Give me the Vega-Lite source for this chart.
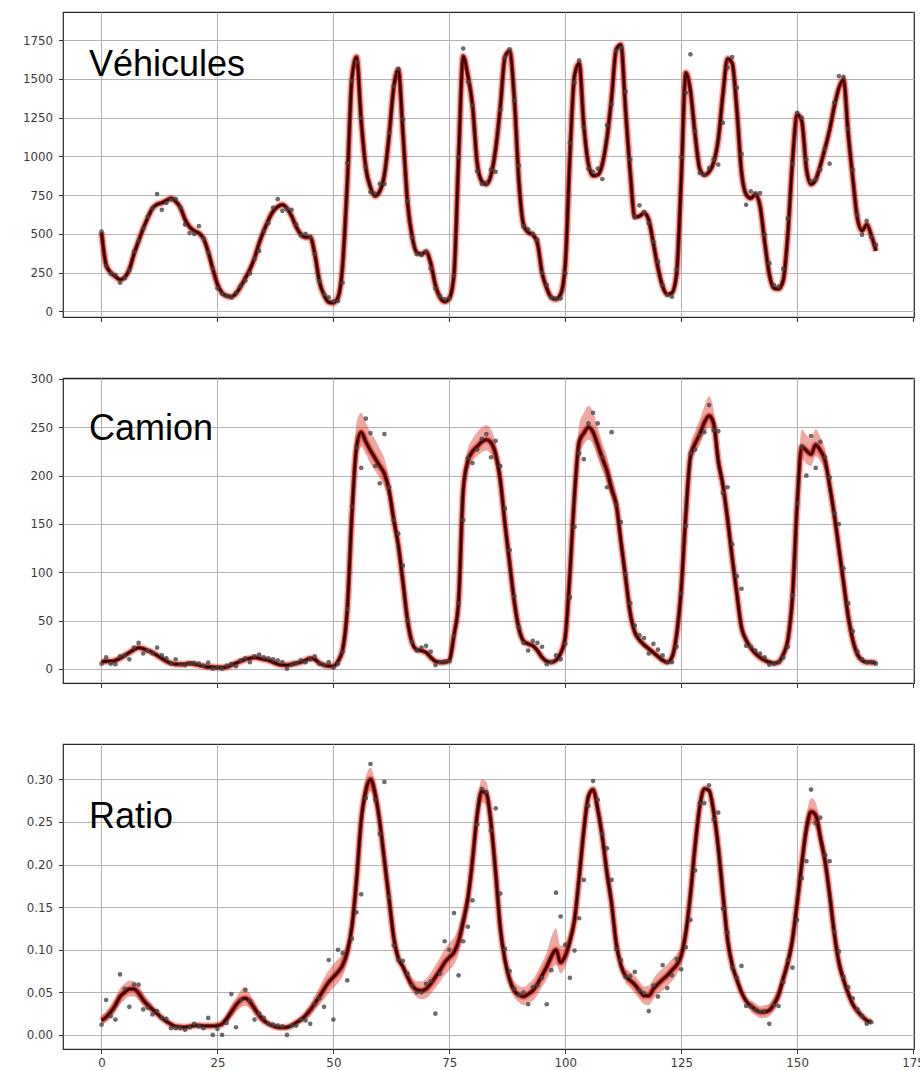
{
"$schema": "https://vega.github.io/schema/vega-lite/v6.json",
"padding": {"left": 21, "top": 11, "right": 0, "bottom": 0},
"spacing": 61,
"bounds": "flush",
"config": {
 "view": {"stroke": "#262626", "strokeWidth": 1.2},
 "axis": {"grid": true, "gridColor": "#b3b3b3", "gridWidth": 1, "domain": false, "ticks": true, "tickColor": "#333333", "tickSize": 4.5, "tickWidth": 1, "labelFont": "DejaVu Sans", "labelFontSize": 11.8, "labelColor": "#3a3a3a", "labelPadding": 4},
 "axisX": {"labelFlush": false},
 "axisY": {"labelPadding": 6}
},
"datasets": {
 "veh": [
{"x":0,"m":510,"y":515},{"x":1,"m":300,"y":293},{"x":2,"m":250,"y":245},{"x":3,"m":225,"y":235},{"x":4,"m":205,"y":185},{"x":5,"m":220,"y":215},{"x":6,"m":270,"y":267},{"x":7,"m":370,"y":386},{"x":8,"m":455,"y":455},{"x":9,"m":535,"y":537},
{"x":10,"m":605,"y":610},{"x":11,"m":665,"y":665},{"x":12,"m":690,"y":757},{"x":13,"m":700,"y":655},{"x":14,"m":715,"y":700},{"x":15,"m":730,"y":720},{"x":16,"m":710,"y":725},{"x":17,"m":670,"y":670},{"x":18,"m":595,"y":560},{"x":19,"m":545,"y":505},
{"x":20,"m":520,"y":500},{"x":21,"m":505,"y":550},{"x":22,"m":470,"y":470},{"x":23,"m":385,"y":380},{"x":24,"m":275,"y":275},{"x":25,"m":175,"y":150},{"x":26,"m":120,"y":115},{"x":27,"m":100,"y":100},{"x":28,"m":95,"y":90},{"x":29,"m":115,"y":120},
{"x":30,"m":160,"y":165},{"x":31,"m":215,"y":200},{"x":32,"m":270,"y":245},{"x":33,"m":345,"y":340},{"x":34,"m":440,"y":390},{"x":35,"m":520,"y":520},{"x":36,"m":590,"y":570},{"x":37,"m":645,"y":670},{"x":38,"m":675,"y":724},{"x":39,"m":688,"y":649},
{"x":40,"m":665,"y":660},{"x":41,"m":615,"y":655},{"x":42,"m":545,"y":560},{"x":43,"m":498,"y":490},{"x":44,"m":478,"y":500},{"x":45,"m":480,"y":480},{"x":46,"m":370,"y":370},{"x":47,"m":192,"y":195},{"x":48,"m":105,"y":110},{"x":49,"m":60,"y":90},
{"x":50,"m":55,"y":65},{"x":51,"m":90,"y":67},{"x":52,"m":300,"y":185},{"x":53,"m":830,"y":957},{"x":54,"m":1500,"y":1486},{"x":55,"m":1640,"y":1609},{"x":56,"m":1230,"y":1248},{"x":57,"m":925,"y":932},{"x":58,"m":800,"y":770},{"x":59,"m":745,"y":760},
{"x":60,"m":775,"y":822},{"x":61,"m":880,"y":822},{"x":62,"m":1130,"y":1152},{"x":63,"m":1440,"y":1453},{"x":64,"m":1560,"y":1562},{"x":65,"m":1150,"y":1238},{"x":66,"m":700,"y":710},{"x":67,"m":480,"y":477},{"x":68,"m":380,"y":369},{"x":69,"m":370,"y":364},
{"x":70,"m":385,"y":386},{"x":71,"m":310,"y":278},{"x":72,"m":170,"y":149},{"x":73,"m":90,"y":95},{"x":74,"m":63,"y":80},{"x":75,"m":84,"y":84},{"x":76,"m":235,"y":230},{"x":77,"m":990,"y":994},{"x":78,"m":1645,"y":1695},{"x":79,"m":1520,"y":1480},
{"x":80,"m":1330,"y":1331},{"x":81,"m":960,"y":904},{"x":82,"m":840,"y":822},{"x":83,"m":820,"y":830},{"x":84,"m":880,"y":914},{"x":85,"m":1050,"y":900},{"x":86,"m":1320,"y":1300},{"x":87,"m":1640,"y":1637},{"x":88,"m":1680,"y":1690},{"x":89,"m":1380,"y":1361},
{"x":90,"m":840,"y":940},{"x":91,"m":560,"y":548},{"x":92,"m":510,"y":530},{"x":93,"m":495,"y":500},{"x":94,"m":440,"y":461},{"x":95,"m":250,"y":250},{"x":96,"m":150,"y":170},{"x":97,"m":90,"y":90},{"x":98,"m":78,"y":84},{"x":99,"m":110,"y":84},
{"x":100,"m":300,"y":246},{"x":101,"m":1000,"y":1087},{"x":102,"m":1520,"y":1475},{"x":103,"m":1600,"y":1620},{"x":104,"m":1200,"y":1184},{"x":105,"m":950,"y":921},{"x":106,"m":875,"y":900},{"x":107,"m":880,"y":921},{"x":108,"m":950,"y":854},{"x":109,"m":1120,"y":1200},
{"x":110,"m":1380,"y":1335},{"x":111,"m":1690,"y":1680},{"x":112,"m":1720,"y":1700},{"x":113,"m":1300,"y":1417},{"x":114,"m":900,"y":979},{"x":115,"m":610,"y":606},{"x":116,"m":615,"y":684},{"x":117,"m":635,"y":640},{"x":118,"m":590,"y":569},{"x":119,"m":440,"y":450},
{"x":120,"m":280,"y":321},{"x":121,"m":160,"y":170},{"x":122,"m":110,"y":106},{"x":123,"m":120,"y":95},{"x":124,"m":240,"y":272},{"x":125,"m":850,"y":994},{"x":126,"m":1540,"y":1410},{"x":127,"m":1420,"y":1658},{"x":128,"m":1140,"y":1162},{"x":129,"m":920,"y":893},
{"x":130,"m":880,"y":880},{"x":131,"m":900,"y":925},{"x":132,"m":960,"y":979},{"x":133,"m":1110,"y":947},{"x":134,"m":1400,"y":1216},{"x":135,"m":1630,"y":1572},{"x":136,"m":1600,"y":1640},{"x":137,"m":1300,"y":1443},{"x":138,"m":900,"y":1016},{"x":139,"m":755,"y":688},
{"x":140,"m":730,"y":774},{"x":141,"m":755,"y":760},{"x":142,"m":680,"y":763},{"x":143,"m":450,"y":494},{"x":144,"m":240,"y":310},{"x":145,"m":150,"y":170},{"x":146,"m":145,"y":160},{"x":147,"m":200,"y":274},{"x":148,"m":500,"y":600},{"x":149,"m":970,"y":951},
{"x":150,"m":1270,"y":1281},{"x":151,"m":1227,"y":1249},{"x":152,"m":920,"y":979},{"x":153,"m":820,"y":840},{"x":154,"m":850,"y":850},{"x":155,"m":940,"y":914},{"x":156,"m":1050,"y":1050},{"x":157,"m":1170,"y":953},{"x":158,"m":1320,"y":1346},{"x":159,"m":1440,"y":1518},
{"x":160,"m":1495,"y":1512},{"x":161,"m":1150,"y":1177},{"x":162,"m":860,"y":914},{"x":163,"m":600,"y":623},{"x":164,"m":520,"y":494},{"x":165,"m":560,"y":584},{"x":166,"m":490,"y":479},{"x":167,"m":390,"y":429}
 ],
 "cam": [
{"x":0,"m":7,"y":5.5},{"x":1,"m":8,"y":12},{"x":2,"m":8,"y":5.5},{"x":3,"m":9,"y":5},{"x":4,"m":11,"y":13},{"x":5,"m":14,"y":14},{"x":6,"m":17,"y":10},{"x":7,"m":20,"y":22},{"x":8,"m":22,"y":27},{"x":9,"m":21,"y":16},
{"x":10,"m":19,"y":19},{"x":11,"m":17,"y":16},{"x":12,"m":14,"y":22},{"x":13,"m":11,"y":14},{"x":14,"m":8,"y":11},{"x":15,"m":6,"y":5.5},{"x":16,"m":5,"y":10},{"x":17,"m":5,"y":5},{"x":18,"m":5,"y":4},{"x":19,"m":6,"y":5.5},
{"x":20,"m":5,"y":6},{"x":21,"m":4,"y":5.5},{"x":22,"m":3,"y":3.5},{"x":23,"m":2,"y":6.5},{"x":24,"m":2,"y":0.3},{"x":25,"m":1.5,"y":1.4},{"x":26,"m":1.5,"y":0.3},{"x":27,"m":2,"y":3.5},{"x":28,"m":4,"y":5},{"x":29,"m":6,"y":2.8},
{"x":30,"m":8,"y":9},{"x":31,"m":10,"y":11},{"x":32,"m":11,"y":7},{"x":33,"m":12,"y":13},{"x":34,"m":11,"y":15},{"x":35,"m":10,"y":12},{"x":36,"m":9,"y":11},{"x":37,"m":7,"y":10},{"x":38,"m":5,"y":9},{"x":39,"m":4,"y":7},
{"x":40,"m":4,"y":0.3},{"x":41,"m":5,"y":4.5},{"x":42,"m":6,"y":6},{"x":43,"m":7,"y":9},{"x":44,"m":9,"y":7},{"x":45,"m":11,"y":10},{"x":46,"m":10,"y":13},{"x":47,"m":6,"y":5.5},{"x":48,"m":4,"y":4},{"x":49,"m":3,"y":7},
{"x":50,"m":3,"y":1.4},{"x":51,"m":8,"y":5.5},{"x":52,"m":20,"y":18},{"x":53,"m":62,"y":62},{"x":54,"m":160,"y":168},{"x":55,"m":230,"y":229},{"x":56,"m":245,"y":208},{"x":57,"m":235,"y":259},{"x":58,"m":226,"y":244},{"x":59,"m":218,"y":210},
{"x":60,"m":210,"y":192},{"x":61,"m":202,"y":243},{"x":62,"m":185,"y":188},{"x":63,"m":155,"y":154},{"x":64,"m":128,"y":140},{"x":65,"m":90,"y":107},{"x":66,"m":50,"y":50},{"x":67,"m":27,"y":28},{"x":68,"m":20,"y":19},{"x":69,"m":19,"y":22},
{"x":70,"m":17,"y":24},{"x":71,"m":12,"y":18},{"x":72,"m":8,"y":4},{"x":73,"m":7,"y":7},{"x":74,"m":7,"y":8},{"x":75,"m":9,"y":8},{"x":76,"m":35,"y":34},{"x":77,"m":70,"y":68},{"x":78,"m":185,"y":154},{"x":79,"m":215,"y":218},
{"x":80,"m":225,"y":213},{"x":81,"m":230,"y":227},{"x":82,"m":235,"y":238},{"x":83,"m":237,"y":243},{"x":84,"m":234,"y":219},{"x":85,"m":222,"y":236},{"x":86,"m":195,"y":210},{"x":87,"m":150,"y":166},{"x":88,"m":110,"y":123},{"x":89,"m":70,"y":75},
{"x":90,"m":42,"y":43},{"x":91,"m":29,"y":27},{"x":92,"m":26,"y":19},{"x":93,"m":24,"y":29},{"x":94,"m":19,"y":27},{"x":95,"m":12,"y":23},{"x":96,"m":8,"y":5},{"x":97,"m":7,"y":7},{"x":98,"m":9,"y":14},{"x":99,"m":16,"y":10},
{"x":100,"m":33,"y":26},{"x":101,"m":99,"y":74},{"x":102,"m":180,"y":147},{"x":103,"m":235,"y":223},{"x":104,"m":244,"y":217},{"x":105,"m":250,"y":254},{"x":106,"m":245,"y":265},{"x":107,"m":232,"y":254},{"x":108,"m":218,"y":219},{"x":109,"m":205,"y":188},
{"x":110,"m":186,"y":245},{"x":111,"m":170,"y":170},{"x":112,"m":132,"y":152},{"x":113,"m":95,"y":98},{"x":114,"m":58,"y":68},{"x":115,"m":38,"y":45},{"x":116,"m":30,"y":35},{"x":117,"m":25,"y":32},{"x":118,"m":21,"y":16},{"x":119,"m":17,"y":26},
{"x":120,"m":13,"y":20},{"x":121,"m":9,"y":14},{"x":122,"m":7,"y":7},{"x":123,"m":12,"y":7},{"x":124,"m":35,"y":23},{"x":125,"m":82,"y":78},{"x":126,"m":160,"y":148},{"x":127,"m":220,"y":223},{"x":128,"m":233,"y":227},{"x":129,"m":243,"y":242},
{"x":130,"m":255,"y":245},{"x":131,"m":262,"y":273},{"x":132,"m":254,"y":247},{"x":133,"m":215,"y":246},{"x":134,"m":190,"y":182},{"x":135,"m":155,"y":188},{"x":136,"m":115,"y":129},{"x":137,"m":78,"y":96},{"x":138,"m":43,"y":83},{"x":139,"m":30,"y":24},
{"x":140,"m":22,"y":23},{"x":141,"m":16,"y":19},{"x":142,"m":12,"y":16},{"x":143,"m":9,"y":12},{"x":144,"m":7,"y":4.5},{"x":145,"m":6,"y":5.5},{"x":146,"m":7,"y":7},{"x":147,"m":15,"y":12},{"x":148,"m":30,"y":23},{"x":149,"m":75,"y":76},
{"x":150,"m":170,"y":171},{"x":151,"m":230,"y":230},{"x":152,"m":226,"y":200},{"x":153,"m":222,"y":241},{"x":154,"m":232,"y":208},{"x":155,"m":226,"y":235},{"x":156,"m":216,"y":219},{"x":157,"m":190,"y":198},{"x":158,"m":160,"y":161},{"x":159,"m":125,"y":150},
{"x":160,"m":90,"y":104},{"x":161,"m":55,"y":68},{"x":162,"m":30,"y":39},{"x":163,"m":15,"y":18},{"x":164,"m":9,"y":10},{"x":165,"m":7,"y":7},{"x":166,"m":7,"y":7},{"x":167,"m":6,"y":5.5}
 ],
 "camband": [
{"s":"a","x":53,"lo":58,"hi":66},{"s":"a","x":54,"lo":150,"hi":172},{"s":"a","x":55,"lo":215,"hi":255},{"s":"a","x":56,"lo":230,"hi":265},{"s":"a","x":57,"lo":222,"hi":255},{"s":"a","x":58,"lo":212,"hi":245},{"s":"a","x":59,"lo":205,"hi":238},{"s":"a","x":60,"lo":197,"hi":228},{"s":"a","x":61,"lo":189,"hi":218},{"s":"a","x":62,"lo":174,"hi":198},{"s":"a","x":63,"lo":146,"hi":166},{"s":"a","x":64,"lo":120,"hi":136},{"s":"a","x":65,"lo":84,"hi":97},{"s":"a","x":66,"lo":45,"hi":56},
{"s":"b","x":77,"lo":65,"hi":76},{"s":"b","x":78,"lo":175,"hi":195},{"s":"b","x":79,"lo":205,"hi":228},{"s":"b","x":80,"lo":215,"hi":238},{"s":"b","x":81,"lo":220,"hi":245},{"s":"b","x":82,"lo":224,"hi":250},{"s":"b","x":83,"lo":226,"hi":252},{"s":"b","x":84,"lo":222,"hi":248},{"s":"b","x":85,"lo":210,"hi":234},{"s":"b","x":86,"lo":184,"hi":206},{"s":"b","x":87,"lo":141,"hi":160},{"s":"b","x":88,"lo":103,"hi":118},
{"s":"c","x":101,"lo":92,"hi":106},{"s":"c","x":102,"lo":172,"hi":190},{"s":"c","x":103,"lo":222,"hi":252},{"s":"c","x":104,"lo":232,"hi":265},{"s":"c","x":105,"lo":237,"hi":272},{"s":"c","x":106,"lo":232,"hi":266},{"s":"c","x":107,"lo":218,"hi":250},{"s":"c","x":108,"lo":205,"hi":234},{"s":"c","x":109,"lo":192,"hi":220},{"s":"c","x":110,"lo":175,"hi":200},{"s":"c","x":111,"lo":160,"hi":182},{"s":"c","x":112,"lo":124,"hi":141},
{"s":"d","x":126,"lo":152,"hi":168},{"s":"d","x":127,"lo":210,"hi":232},{"s":"d","x":128,"lo":223,"hi":246},{"s":"d","x":129,"lo":232,"hi":258},{"s":"d","x":130,"lo":243,"hi":272},{"s":"d","x":131,"lo":250,"hi":282},{"s":"d","x":132,"lo":243,"hi":268},{"s":"d","x":133,"lo":205,"hi":228},{"s":"d","x":134,"lo":180,"hi":200},
{"s":"e","x":150,"lo":162,"hi":180},{"s":"e","x":151,"lo":218,"hi":248},{"s":"e","x":152,"lo":212,"hi":242},{"s":"e","x":153,"lo":210,"hi":238},{"s":"e","x":154,"lo":220,"hi":248},{"s":"e","x":155,"lo":215,"hi":240},{"s":"e","x":156,"lo":205,"hi":228},{"s":"e","x":157,"lo":180,"hi":200}
 ],
 "rat": [
{"x":0,"m":0.017,"y":0.012},{"x":1,"m":0.021,"y":0.041},{"x":2,"m":0.027,"y":0.022},{"x":3,"m":0.035,"y":0.018},{"x":4,"m":0.045,"y":0.071},{"x":5,"m":0.050,"y":0.054},{"x":6,"m":0.054,"y":0.033},{"x":7,"m":0.054,"y":0.059},{"x":8,"m":0.049,"y":0.059},{"x":9,"m":0.041,"y":0.030},
{"x":10,"m":0.035,"y":0.032},{"x":11,"m":0.030,"y":0.024},{"x":12,"m":0.025,"y":0.028},{"x":13,"m":0.020,"y":0.020},{"x":14,"m":0.016,"y":0.019},{"x":15,"m":0.0125,"y":0.008},{"x":16,"m":0.010,"y":0.008},{"x":17,"m":0.0094,"y":0.008},{"x":18,"m":0.009,"y":0.006},{"x":19,"m":0.010,"y":0.009},
{"x":20,"m":0.011,"y":0.013},{"x":21,"m":0.011,"y":0.010},{"x":22,"m":0.0106,"y":0.008},{"x":23,"m":0.0106,"y":0.020},{"x":24,"m":0.0106,"y":0.000},{"x":25,"m":0.011,"y":0.007},{"x":26,"m":0.013,"y":0.000},{"x":27,"m":0.019,"y":0.014},{"x":28,"m":0.027,"y":0.048},{"x":29,"m":0.035,"y":0.009},
{"x":30,"m":0.041,"y":0.041},{"x":31,"m":0.043,"y":0.053},{"x":32,"m":0.039,"y":0.040},{"x":33,"m":0.031,"y":0.018},{"x":34,"m":0.023,"y":0.025},{"x":35,"m":0.017,"y":0.020},{"x":36,"m":0.013,"y":0.013},{"x":37,"m":0.0106,"y":0.012},{"x":38,"m":0.009,"y":0.011},{"x":39,"m":0.0086,"y":0.010},
{"x":40,"m":0.009,"y":0.000},{"x":41,"m":0.011,"y":0.011},{"x":42,"m":0.0145,"y":0.011},{"x":43,"m":0.018,"y":0.018},{"x":44,"m":0.023,"y":0.017},{"x":45,"m":0.029,"y":0.013},{"x":46,"m":0.037,"y":0.036},{"x":47,"m":0.045,"y":0.043},{"x":48,"m":0.054,"y":0.033},{"x":49,"m":0.062,"y":0.088},
{"x":50,"m":0.068,"y":0.018},{"x":51,"m":0.074,"y":0.100},{"x":52,"m":0.082,"y":0.096},{"x":53,"m":0.0975,"y":0.064},{"x":54,"m":0.127,"y":0.113},{"x":55,"m":0.182,"y":0.144},{"x":56,"m":0.252,"y":0.165},{"x":57,"m":0.287,"y":0.278},{"x":58,"m":0.300,"y":0.318},{"x":59,"m":0.283,"y":0.276},
{"x":60,"m":0.250,"y":0.236},{"x":61,"m":0.205,"y":0.297},{"x":62,"m":0.160,"y":0.162},{"x":63,"m":0.115,"y":0.105},{"x":64,"m":0.090,"y":0.088},{"x":65,"m":0.080,"y":0.087},{"x":66,"m":0.068,"y":0.072},{"x":67,"m":0.058,"y":0.058},{"x":68,"m":0.053,"y":0.050},{"x":69,"m":0.052,"y":0.050},
{"x":70,"m":0.054,"y":0.060},{"x":71,"m":0.060,"y":0.063},{"x":72,"m":0.068,"y":0.025},{"x":73,"m":0.076,"y":0.072},{"x":74,"m":0.085,"y":0.110},{"x":75,"m":0.091,"y":0.100},{"x":76,"m":0.097,"y":0.143},{"x":77,"m":0.110,"y":0.070},{"x":78,"m":0.133,"y":0.110},{"x":79,"m":0.160,"y":0.127},
{"x":80,"m":0.205,"y":0.158},{"x":81,"m":0.258,"y":0.247},{"x":82,"m":0.286,"y":0.289},{"x":83,"m":0.283,"y":0.285},{"x":84,"m":0.248,"y":0.240},{"x":85,"m":0.190,"y":0.266},{"x":86,"m":0.125,"y":0.166},{"x":87,"m":0.088,"y":0.101},{"x":88,"m":0.065,"y":0.075},{"x":89,"m":0.052,"y":0.054},
{"x":90,"m":0.047,"y":0.047},{"x":91,"m":0.045,"y":0.050},{"x":92,"m":0.048,"y":0.036},{"x":93,"m":0.052,"y":0.056},{"x":94,"m":0.060,"y":0.058},{"x":95,"m":0.070,"y":0.067},{"x":96,"m":0.080,"y":0.036},{"x":97,"m":0.092,"y":0.076},{"x":98,"m":0.100,"y":0.167},{"x":99,"m":0.085,"y":0.139},
{"x":100,"m":0.093,"y":0.106},{"x":101,"m":0.110,"y":0.067},{"x":102,"m":0.135,"y":0.099},{"x":103,"m":0.185,"y":0.137},{"x":104,"m":0.240,"y":0.182},{"x":105,"m":0.280,"y":0.269},{"x":106,"m":0.288,"y":0.298},{"x":107,"m":0.265,"y":0.276},{"x":108,"m":0.232,"y":0.236},{"x":109,"m":0.190,"y":0.219},
{"x":110,"m":0.154,"y":0.182},{"x":111,"m":0.107,"y":0.101},{"x":112,"m":0.082,"y":0.088},{"x":113,"m":0.069,"y":0.068},{"x":114,"m":0.064,"y":0.069},{"x":115,"m":0.059,"y":0.074},{"x":116,"m":0.052,"y":0.052},{"x":117,"m":0.046,"y":0.049},{"x":118,"m":0.046,"y":0.028},{"x":119,"m":0.054,"y":0.058},
{"x":120,"m":0.060,"y":0.045},{"x":121,"m":0.065,"y":0.082},{"x":122,"m":0.070,"y":0.055},{"x":123,"m":0.076,"y":0.070},{"x":124,"m":0.082,"y":0.089},{"x":125,"m":0.093,"y":0.077},{"x":126,"m":0.120,"y":0.103},{"x":127,"m":0.165,"y":0.135},{"x":128,"m":0.222,"y":0.193},{"x":129,"m":0.268,"y":0.272},
{"x":130,"m":0.289,"y":0.272},{"x":131,"m":0.287,"y":0.293},{"x":132,"m":0.262,"y":0.253},{"x":133,"m":0.220,"y":0.261},{"x":134,"m":0.165,"y":0.148},{"x":135,"m":0.112,"y":0.120},{"x":136,"m":0.082,"y":0.079},{"x":137,"m":0.065,"y":0.067},{"x":138,"m":0.050,"y":0.081},{"x":139,"m":0.040,"y":0.034},
{"x":140,"m":0.034,"y":0.033},{"x":141,"m":0.030,"y":0.029},{"x":142,"m":0.027,"y":0.027},{"x":143,"m":0.027,"y":0.028},{"x":144,"m":0.029,"y":0.013},{"x":145,"m":0.036,"y":0.035},{"x":146,"m":0.047,"y":0.034},{"x":147,"m":0.066,"y":0.062},{"x":148,"m":0.085,"y":0.088},{"x":149,"m":0.112,"y":0.079},
{"x":150,"m":0.155,"y":0.135},{"x":151,"m":0.201,"y":0.184},{"x":152,"m":0.242,"y":0.204},{"x":153,"m":0.262,"y":0.288},{"x":154,"m":0.258,"y":0.249},{"x":155,"m":0.232,"y":0.255},{"x":156,"m":0.205,"y":0.211},{"x":157,"m":0.165,"y":0.204},{"x":158,"m":0.120,"y":0.121},{"x":159,"m":0.085,"y":0.098},
{"x":160,"m":0.065,"y":0.068},{"x":161,"m":0.049,"y":0.056},{"x":162,"m":0.036,"y":0.043},{"x":163,"m":0.028,"y":0.030},{"x":164,"m":0.022,"y":0.022},{"x":165,"m":0.017,"y":0.013},{"x":166,"m":0.015,"y":0.015}
 ],
 "ratband": [
{"s":"a","x":0,"lo":0.012,"hi":0.023},{"s":"a","x":1,"lo":0.015,"hi":0.028},{"s":"a","x":2,"lo":0.020,"hi":0.035},{"s":"a","x":3,"lo":0.027,"hi":0.044},{"s":"a","x":4,"lo":0.036,"hi":0.055},{"s":"a","x":5,"lo":0.041,"hi":0.060},{"s":"a","x":6,"lo":0.045,"hi":0.064},{"s":"a","x":7,"lo":0.045,"hi":0.063},{"s":"a","x":8,"lo":0.041,"hi":0.058},{"s":"a","x":9,"lo":0.034,"hi":0.049},{"s":"a","x":10,"lo":0.029,"hi":0.042},{"s":"a","x":11,"lo":0.025,"hi":0.036},
{"s":"b","x":26,"lo":0.009,"hi":0.017},{"s":"b","x":27,"lo":0.014,"hi":0.025},{"s":"b","x":28,"lo":0.020,"hi":0.035},{"s":"b","x":29,"lo":0.027,"hi":0.044},{"s":"b","x":30,"lo":0.032,"hi":0.052},{"s":"b","x":31,"lo":0.034,"hi":0.056},{"s":"b","x":32,"lo":0.031,"hi":0.048},{"s":"b","x":33,"lo":0.024,"hi":0.039},{"s":"b","x":34,"lo":0.017,"hi":0.029},{"s":"b","x":35,"lo":0.012,"hi":0.022},
{"s":"c","x":44,"lo":0.017,"hi":0.029},{"s":"c","x":45,"lo":0.022,"hi":0.036},{"s":"c","x":46,"lo":0.029,"hi":0.046},{"s":"c","x":47,"lo":0.035,"hi":0.056},{"s":"c","x":48,"lo":0.042,"hi":0.067},{"s":"c","x":49,"lo":0.049,"hi":0.076},{"s":"c","x":50,"lo":0.055,"hi":0.083},{"s":"c","x":51,"lo":0.061,"hi":0.089},{"s":"c","x":52,"lo":0.069,"hi":0.096},{"s":"c","x":53,"lo":0.085,"hi":0.110},{"s":"c","x":54,"lo":0.114,"hi":0.140},{"s":"c","x":55,"lo":0.168,"hi":0.196},{"s":"c","x":56,"lo":0.238,"hi":0.266},{"s":"c","x":57,"lo":0.272,"hi":0.302},{"s":"c","x":58,"lo":0.286,"hi":0.314},{"s":"c","x":59,"lo":0.269,"hi":0.297},{"s":"c","x":60,"lo":0.237,"hi":0.263},{"s":"c","x":61,"lo":0.193,"hi":0.217},{"s":"c","x":62,"lo":0.149,"hi":0.171},{"s":"c","x":63,"lo":0.105,"hi":0.125},
{"s":"d","x":66,"lo":0.060,"hi":0.077},{"s":"d","x":67,"lo":0.050,"hi":0.067},{"s":"d","x":68,"lo":0.044,"hi":0.063},{"s":"d","x":69,"lo":0.042,"hi":0.063},{"s":"d","x":70,"lo":0.043,"hi":0.066},{"s":"d","x":71,"lo":0.048,"hi":0.073},{"s":"d","x":72,"lo":0.055,"hi":0.082},{"s":"d","x":73,"lo":0.062,"hi":0.091},{"s":"d","x":74,"lo":0.070,"hi":0.101},{"s":"d","x":75,"lo":0.076,"hi":0.108},{"s":"d","x":76,"lo":0.082,"hi":0.114},{"s":"d","x":77,"lo":0.095,"hi":0.126},{"s":"d","x":78,"lo":0.118,"hi":0.148},{"s":"d","x":79,"lo":0.146,"hi":0.175},{"s":"d","x":80,"lo":0.192,"hi":0.219},{"s":"d","x":81,"lo":0.245,"hi":0.272},{"s":"d","x":82,"lo":0.273,"hi":0.300},{"s":"d","x":83,"lo":0.270,"hi":0.297},{"s":"d","x":84,"lo":0.236,"hi":0.261},{"s":"d","x":85,"lo":0.179,"hi":0.202},{"s":"d","x":86,"lo":0.115,"hi":0.136},
{"s":"f","x":88,"lo":0.057,"hi":0.074},{"s":"f","x":89,"lo":0.044,"hi":0.062},{"s":"f","x":90,"lo":0.038,"hi":0.058},{"s":"f","x":91,"lo":0.035,"hi":0.056},{"s":"f","x":92,"lo":0.037,"hi":0.060},{"s":"f","x":93,"lo":0.040,"hi":0.065},{"s":"f","x":94,"lo":0.047,"hi":0.074},{"s":"f","x":95,"lo":0.056,"hi":0.085},{"s":"f","x":96,"lo":0.065,"hi":0.097},{"s":"f","x":97,"lo":0.075,"hi":0.115},{"s":"f","x":98,"lo":0.082,"hi":0.125},{"s":"f","x":99,"lo":0.072,"hi":0.105},{"s":"f","x":100,"lo":0.080,"hi":0.108},{"s":"f","x":101,"lo":0.098,"hi":0.123},{"s":"f","x":102,"lo":0.124,"hi":0.147},
{"s":"g","x":113,"lo":0.061,"hi":0.078},{"s":"g","x":114,"lo":0.055,"hi":0.074},{"s":"g","x":115,"lo":0.049,"hi":0.070},{"s":"g","x":116,"lo":0.042,"hi":0.063},{"s":"g","x":117,"lo":0.036,"hi":0.057},{"s":"g","x":118,"lo":0.035,"hi":0.058},{"s":"g","x":119,"lo":0.042,"hi":0.066},{"s":"g","x":120,"lo":0.048,"hi":0.073},{"s":"g","x":121,"lo":0.052,"hi":0.078},{"s":"g","x":122,"lo":0.057,"hi":0.083},{"s":"g","x":123,"lo":0.063,"hi":0.089},{"s":"g","x":124,"lo":0.070,"hi":0.095},{"s":"g","x":125,"lo":0.082,"hi":0.105},{"s":"g","x":126,"lo":0.109,"hi":0.132},
{"s":"h","x":140,"lo":0.027,"hi":0.041},{"s":"h","x":141,"lo":0.023,"hi":0.037},{"s":"h","x":142,"lo":0.020,"hi":0.034},{"s":"h","x":143,"lo":0.020,"hi":0.035},{"s":"h","x":144,"lo":0.022,"hi":0.037},{"s":"h","x":145,"lo":0.028,"hi":0.045},{"s":"h","x":146,"lo":0.038,"hi":0.057},{"s":"h","x":147,"lo":0.056,"hi":0.076},{"s":"h","x":148,"lo":0.075,"hi":0.097},{"s":"h","x":149,"lo":0.100,"hi":0.124},{"s":"h","x":150,"lo":0.142,"hi":0.168},{"s":"h","x":151,"lo":0.188,"hi":0.215},{"s":"h","x":152,"lo":0.228,"hi":0.257},{"s":"h","x":153,"lo":0.247,"hi":0.278},{"s":"h","x":154,"lo":0.243,"hi":0.273},{"s":"h","x":155,"lo":0.218,"hi":0.247},{"s":"h","x":156,"lo":0.192,"hi":0.218}
 ]
},
"vconcat": [
 {
  "width": 851, "height": 305,
  "data": {"name": "veh"},
  "layer": [
   {"mark": {"type": "line", "interpolate": "monotone", "color": "#d8301e", "strokeWidth": 7.5, "opacity": 0.35},
    "encoding": {
     "x": {"field": "x", "type": "quantitative", "title": null, "scale": {"domain": [-8.3, 175.2], "nice": false, "zero": false}, "axis": {"values": [0,25,50,75,100,125,150,175], "labels": false}},
     "y": {"field": "m", "type": "quantitative", "title": null, "scale": {"domain": [-36, 1931], "nice": false, "zero": false}, "axis": {"values": [0,250,500,750,1000,1250,1500,1750], "format": "d"}}}},
   {"mark": {"type": "line", "interpolate": "monotone", "color": "#b80a00", "strokeWidth": 4.5, "opacity": 0.85},
    "encoding": {"x": {"field": "x", "type": "quantitative"}, "y": {"field": "m", "type": "quantitative"}}},
   {"mark": {"type": "line", "interpolate": "monotone", "color": "#300000", "strokeWidth": 2.4},
    "encoding": {"x": {"field": "x", "type": "quantitative"}, "y": {"field": "m", "type": "quantitative"}}},
   {"mark": {"type": "point", "filled": true, "size": 22, "color": "#444444", "opacity": 0.78},
    "encoding": {"x": {"field": "x", "type": "quantitative"}, "y": {"field": "y", "type": "quantitative"}}},
   {"data": {"values": [{"label": "Véhicules", "x": -2.7, "y": 1517}]},
    "mark": {"type": "text", "align": "left", "baseline": "alphabetic", "font": "Liberation Sans", "fontSize": 36, "color": "#000000"},
    "encoding": {"x": {"field": "x", "type": "quantitative"}, "y": {"field": "y", "type": "quantitative"}, "text": {"field": "label"}}}
  ]
 },
 {
  "width": 851, "height": 305,
  "data": {"name": "cam"},
  "layer": [
   {"data": {"name": "camband"},
    "mark": {"type": "area", "interpolate": "monotone", "color": "#d8301e", "opacity": 0.42},
    "encoding": {
     "x": {"field": "x", "type": "quantitative", "title": null, "scale": {"domain": [-8.3, 175.2], "nice": false, "zero": false}, "axis": {"values": [0,25,50,75,100,125,150,175], "labels": false}},
     "y": {"field": "lo", "type": "quantitative", "title": null, "scale": {"domain": [-14.5, 301], "nice": false, "zero": false}, "axis": {"values": [0,50,100,150,200,250,300], "format": "d"}},
     "y2": {"field": "hi"},
     "detail": {"field": "s"}}},
   {"mark": {"type": "line", "interpolate": "monotone", "color": "#d8301e", "strokeWidth": 7.5, "opacity": 0.35},
    "encoding": {"x": {"field": "x", "type": "quantitative"}, "y": {"field": "m", "type": "quantitative"}}},
   {"mark": {"type": "line", "interpolate": "monotone", "color": "#b80a00", "strokeWidth": 4.5, "opacity": 0.85},
    "encoding": {"x": {"field": "x", "type": "quantitative"}, "y": {"field": "m", "type": "quantitative"}}},
   {"mark": {"type": "line", "interpolate": "monotone", "color": "#300000", "strokeWidth": 2.4},
    "encoding": {"x": {"field": "x", "type": "quantitative"}, "y": {"field": "m", "type": "quantitative"}}},
   {"mark": {"type": "point", "filled": true, "size": 22, "color": "#444444", "opacity": 0.78},
    "encoding": {"x": {"field": "x", "type": "quantitative"}, "y": {"field": "y", "type": "quantitative"}}},
   {"data": {"values": [{"label": "Camion", "x": -2.7, "y": 237}]},
    "mark": {"type": "text", "align": "left", "baseline": "alphabetic", "font": "Liberation Sans", "fontSize": 36, "color": "#000000"},
    "encoding": {"x": {"field": "x", "type": "quantitative"}, "y": {"field": "y", "type": "quantitative"}, "text": {"field": "label"}}}
  ]
 },
 {
  "width": 851, "height": 305,
  "data": {"name": "rat"},
  "layer": [
   {"data": {"name": "ratband"},
    "mark": {"type": "area", "interpolate": "monotone", "color": "#d8301e", "opacity": 0.42},
    "encoding": {
     "x": {"field": "x", "type": "quantitative", "title": null, "scale": {"domain": [-8.3, 175.2], "nice": false, "zero": false}, "axis": {"values": [0,25,50,75,100,125,150,175], "format": "d"}},
     "y": {"field": "lo", "type": "quantitative", "title": null, "scale": {"domain": [-0.0165, 0.3415], "nice": false, "zero": false}, "axis": {"values": [0,0.05,0.1,0.15,0.2,0.25,0.3], "format": ".2f"}},
     "y2": {"field": "hi"},
     "detail": {"field": "s"}}},
   {"mark": {"type": "line", "interpolate": "monotone", "color": "#d8301e", "strokeWidth": 7.5, "opacity": 0.35},
    "encoding": {"x": {"field": "x", "type": "quantitative"}, "y": {"field": "m", "type": "quantitative"}}},
   {"mark": {"type": "line", "interpolate": "monotone", "color": "#b80a00", "strokeWidth": 4.5, "opacity": 0.85},
    "encoding": {"x": {"field": "x", "type": "quantitative"}, "y": {"field": "m", "type": "quantitative"}}},
   {"mark": {"type": "line", "interpolate": "monotone", "color": "#300000", "strokeWidth": 2.4},
    "encoding": {"x": {"field": "x", "type": "quantitative"}, "y": {"field": "m", "type": "quantitative"}}},
   {"mark": {"type": "point", "filled": true, "size": 22, "color": "#444444", "opacity": 0.78},
    "encoding": {"x": {"field": "x", "type": "quantitative"}, "y": {"field": "y", "type": "quantitative"}}},
   {"data": {"values": [{"label": "Ratio", "x": -2.7, "y": 0.2425}]},
    "mark": {"type": "text", "align": "left", "baseline": "alphabetic", "font": "Liberation Sans", "fontSize": 36, "color": "#000000"},
    "encoding": {"x": {"field": "x", "type": "quantitative"}, "y": {"field": "y", "type": "quantitative"}, "text": {"field": "label"}}}
  ]
 }
]
}
